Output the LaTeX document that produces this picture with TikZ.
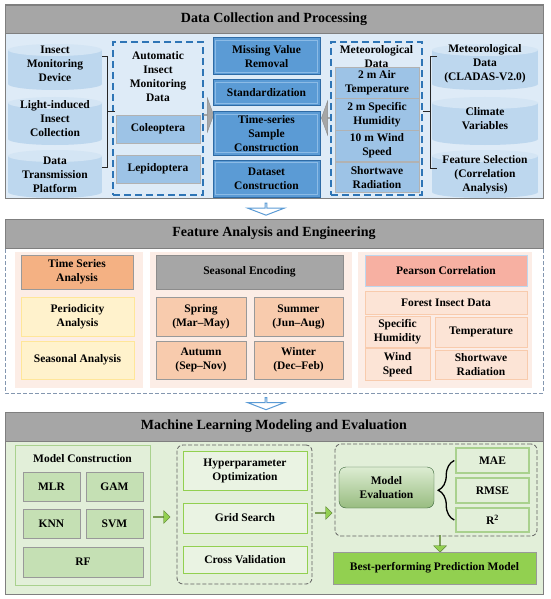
\documentclass[tikz,border=0pt]{standalone}
\usepackage{fontspec}
\setmainfont{Liberation Serif}
\usepackage{xcolor}
\usepackage{tikz}
\usetikzlibrary{shapes,shapes.geometric,shapes.arrows}
\usetikzlibrary{decorations.pathreplacing}
\usetikzlibrary{positioning}
\definecolor{barGray}{HTML}{A6A6A6}
\definecolor{frameGray}{HTML}{7F7F7F}
\definecolor{skyBg}{HTML}{DEEBF7}
\definecolor{cylBody}{HTML}{BDD7EE}
\definecolor{cylTop}{HTML}{D4E5F4}
\definecolor{dashBlue}{HTML}{2E75B6}
\definecolor{midBlue}{HTML}{9DC3E6}
\definecolor{btnBlue}{HTML}{5B9BD5}
\definecolor{btnEdge}{HTML}{2F6BA5}
\definecolor{btnLight}{HTML}{8CBBE6}
\definecolor{pinkBg}{HTML}{FCEDE6}
\definecolor{orangeA}{HTML}{F4B183}
\definecolor{peach}{HTML}{F8CBAD}
\definecolor{salmon}{HTML}{F7B0A2}
\definecolor{paleP}{HTML}{FCE4D6}
\definecolor{creamY}{HTML}{FFF2CC}
\definecolor{creamE}{HTML}{FFE699}
\definecolor{greenBg}{HTML}{E2EFD9}
\definecolor{greenE}{HTML}{A9D18E}
\definecolor{greenBox}{HTML}{C5E0B4}
\definecolor{tuneFill}{HTML}{EAF3E3}
\definecolor{lime}{HTML}{92D050}
\definecolor{slateGray}{HTML}{8497B0}
\tikzstyle{titlebar} = [rectangle, draw=frameGray, fill=barGray, minimum width=538,
    font=\fontsize{14}{16}\selectfont\bfseries]
\tikzstyle{cantext} = [align=center, inner sep=0pt]
\tikzstyle{dashbox} = [rectangle, draw=dashBlue, line width=1.3pt, dash pattern=on 7pt off 4pt]
\tikzstyle{taxon} = [rectangle, draw=gray!60, line width=0.8pt, fill=midBlue, align=center]
\tikzstyle{button} = [rectangle, draw=btnEdge, line width=1pt, fill=btnBlue, align=center,
    path picture={\draw[btnLight, line width=1.2pt]
      ([shift={(2.5pt,2.5pt)}]path picture bounding box.south west) rectangle
      ([shift={(-2.5pt,-2.5pt)}]path picture bounding box.north east);}]
\tikzstyle{grayarrow} = [single arrow, fill=gray!70, draw=gray!90, inner sep=0pt,
    minimum height=10, minimum width=34, single arrow head extend=8,
    single arrow tip angle=140]
\tikzstyle{bluearrow} = [single arrow, draw=btnBlue, fill=white, line width=1pt, inner sep=0pt,
    shape border rotate=270, minimum height=12, minimum width=37,
    single arrow head extend=10, single arrow tip angle=138]
\tikzstyle{panel} = [rectangle, fill=pinkBg, draw=none]
\tikzstyle{orangebox} = [rectangle, draw=gray!80, fill=orangeA, align=center]
\tikzstyle{cream} = [rectangle, draw=creamE, line width=1pt, fill=creamY, align=center]
\tikzstyle{season} = [rectangle, draw=gray!80, fill=peach, align=center]
\tikzstyle{graybox} = [rectangle, draw=gray!90, fill=barGray]
\tikzstyle{pearson} = [rectangle, draw=cylBody, line width=1pt, fill=salmon]
\tikzstyle{factor} = [rectangle, draw=peach, line width=1pt, fill=paleP, align=center]
\tikzstyle{greenpanel} = [rectangle, draw=greenE, line width=1pt, fill=greenBg]
\tikzstyle{model} = [rectangle, draw=gray!80, fill=greenBox]
\tikzstyle{tune} = [rectangle, draw=lime, line width=1pt, fill=tuneFill, align=center]
\tikzstyle{dashpanel} = [rectangle, rounded corners=6pt, draw=gray!75!black, line width=0.8pt,
    dash pattern=on 4pt off 2pt]
\tikzstyle{evalbox} = [rectangle, rounded corners=7pt, draw=gray!70!green!60!black,
    top color=greenBox!60!white, bottom color=greenE!90!black, align=center]
\tikzstyle{metric} = [rectangle, draw=greenE, line width=1.5pt, fill=greenBg]
\tikzstyle{greenarrow} = [single arrow, draw=lime!60!black, fill=lime, inner sep=0pt,
    minimum height=17, minimum width=13, single arrow head extend=3]
\tikzstyle{best} = [rectangle, draw=gray!80, line width=1pt, fill=lime]
\tikzstyle{brk} = [draw=black!85, line width=1pt]
\tikzstyle{curly} = [draw, decorate, decoration={brace, amplitude=16pt}, line width=1.3pt]

\begin{document}
\begin{tikzpicture}[x=1pt,y=-1pt,font=\fontsize{11.5}{14}\selectfont\bfseries]
    \useasboundingbox (0,0) rectangle (550,599);
    % Data collection and processing
    \draw[frameGray, line width=1pt, fill=skyBg] (5,5) rectangle (543,198);
    \node[titlebar, minimum height=28] (title1) at (274,19) {Data Collection and Processing};
    % cans behind the source texts
    \foreach \cx/\rx/\ytop/\ybot in {55/47/50/84, 55/47/103/139, 55/47/156/192,
                                     485/53/50/84, 485/53/103/139, 485/53/156/192} {
      \fill[cylBody] (\cx-\rx,\ytop) rectangle (\cx+\rx,\ybot);
      \fill[cylBody] (\cx,\ybot) ellipse [x radius=\rx pt, y radius=6pt];
      \fill[cylTop] (\cx,\ytop) ellipse [x radius=\rx pt, y radius=6pt];
    }
    \node[cantext] (device) at (55,64) {Insect\\Monitoring\\Device};
    \node[cantext] (light) at (55,119) {Light-induced\\Insect\\Collection};
    \node[cantext] (platform) at (55,175) {Data\\Transmission\\Platform};
    \node[dashbox, minimum width=90, minimum height=153] (autobox) at (158,118.5) {};
    \node[align=center] (autotxt) at (158,77) {Automatic\\Insect\\Monitoring\\Data};
    \node[taxon, minimum width=84, minimum height=28] (coleo) at (158,129) {Coleoptera};
    \node[taxon, minimum width=84, minimum height=28] (lepido) at (158,169) {Lepidoptera};
    \node[grayarrow] (toproc) at (208.5,115) {};
    \node[button, minimum width=107, minimum height=37] (missing) at (266.5,56.5) {Missing Value\\Removal};
    \node[button, minimum width=107, minimum height=26] (standard) at (266.5,93) {Standardization};
    \node[button, minimum width=107, minimum height=43] (sample) at (266.5,133.5) {Time-series\\Sample\\Construction};
    \node[button, minimum width=107, minimum height=37] (dataset) at (266.5,178.5) {Dataset\\Construction};
    \node[grayarrow, shape border rotate=180] (fromweather) at (326.5,118) {};
    \node[dashbox, minimum width=91, minimum height=153] (metbox) at (376.5,118.5) {};
    \node[align=center] (mettxt) at (376.5,56.5) {Meteorological\\Data};
    \node[taxon, minimum width=84, minimum height=30.5] (airtemp) at (377,83) {2 m Air\\Temperature};
    \node[taxon, minimum width=84, minimum height=30.5] (humid) at (377,114.5) {2 m Specific\\Humidity};
    \node[taxon, minimum width=84, minimum height=30.5] (wind) at (377,146) {10 m Wind\\Speed};
    \node[taxon, minimum width=84, minimum height=30.5] (radiation) at (377,177.5) {Shortwave\\Radiation};
    \node[cantext] (cladas) at (485,64) {Meteorological\\Data\\(CLADAS-V2.0)};
    \node[cantext] (climate) at (485,119) {Climate\\Variables};
    \node[cantext] (selection) at (485,175) {Feature Selection\\(Correlation\\Analysis)};
    % Draw edges
    \draw[brk] (102,57) -- (107,57) -- (107,167) -- (102,167);
    \draw[brk] (107,112) -- (115,112);
    \draw[brk] (437,57) -- (430,57) -- (430,168) -- (437,168);
    \draw[brk] (430,112) -- (423,112);
    \node[bluearrow] (down1) at (266,209) {};

    % Feature analysis and engineering
    \draw[slateGray, line width=1pt, dash pattern=on 4pt off 2pt] (5,219) rectangle (543,393);
    \node[titlebar, minimum height=29] (title2) at (274,233.5) {Feature Analysis and Engineering};
    \node[panel, minimum width=128, minimum height=136] (panelA) at (79,320) {};
    \node[panel, minimum width=202, minimum height=136] (panelB) at (251,320) {};
    \node[panel, minimum width=174, minimum height=136] (panelC) at (445,320) {};
    \node[orangebox, minimum width=112, minimum height=34] (tsa) at (77,272) {Time Series\\Analysis};
    \node[cream, minimum width=113, minimum height=39] (period) at (77.5,316.5) {Periodicity\\Analysis};
    \node[cream, minimum width=113, minimum height=38] (seasonal) at (77.5,360) {Seasonal Analysis};
    \node[graybox, minimum width=187, minimum height=34] (encode) at (249.5,272) {Seasonal Encoding};
    \node[season, minimum width=90, minimum height=39] (spring) at (201,316.5) {Spring\\(Mar--May)};
    \node[season, minimum width=89, minimum height=39] (summer) at (298.5,316.5) {Summer\\(Jun--Aug)};
    \node[season, minimum width=90, minimum height=38] (autumn) at (201,360) {Autumn\\(Sep--Nov)};
    \node[season, minimum width=89, minimum height=38] (winter) at (298.5,360) {Winter\\(Dec--Feb)};
    \node[pearson, minimum width=162, minimum height=31] (pearson) at (446,270.5) {Pearson Correlation};
    \node[factor, minimum width=162, minimum height=23] (forest) at (446,302.5) {Forest Insect Data};
    \node[factor, minimum width=65, minimum height=30] (spechum) at (397.5,332) {Specific\\Humidity};
    \node[factor, minimum width=92, minimum height=30] (temp) at (481,332) {Temperature};
    \node[factor, minimum width=65, minimum height=29] (windsp) at (397.5,364.5) {Wind\\Speed};
    \node[factor, minimum width=92, minimum height=29] (shortw) at (481,364.5) {Shortwave\\Radiation};
    \node[bluearrow] (down2) at (266,403.5) {};

    % Machine learning modeling and evaluation
    \draw[frameGray, line width=1pt, fill=greenBg] (5,412) rectangle (543,594);
    \node[titlebar, minimum height=29] (title3) at (274,426.5) {Machine Learning Modeling and Evaluation};
    \node[greenpanel, minimum width=135, minimum height=140] (mcpanel) at (82.5,515) {};
    \node (mctxt) at (82.5,459) {Model Construction};
    \node[model, minimum width=57, minimum height=29] (mlr) at (51.5,486.5) {MLR};
    \node[model, minimum width=57, minimum height=29] (gam) at (114.5,486.5) {GAM};
    \node[model, minimum width=57, minimum height=29] (knn) at (51.5,523.5) {KNN};
    \node[model, minimum width=57, minimum height=29] (svm) at (114.5,523.5) {SVM};
    \node[model, minimum width=120, minimum height=30] (rf) at (83,562) {RF};
    \node[greenarrow] (tuning) at (161.5,517) {};
    \node[dashpanel, minimum width=135, minimum height=139] (tunepanel) at (244.5,514.5) {};
    \node[tune, minimum width=124, minimum height=39] (hyper) at (245,470.5) {Hyperparameter\\Optimization};
    \node[tune, minimum width=124, minimum height=30] (grid) at (245,518) {Grid Search};
    \node[tune, minimum width=124, minimum height=27] (cross) at (245,560) {Cross Validation};
    \node[greenarrow] (evaluate) at (323.5,513) {};
    \node[dashpanel, minimum width=202, minimum height=92] (evalpanel) at (436,490) {};
    \node[evalbox, minimum width=95, minimum height=41] (evaluation) at (386.5,487.5) {Model\\Evaluation};
    \node[metric, minimum width=73, minimum height=25] (mae) at (492.5,460.5) {MAE};
    \node[metric, minimum width=73, minimum height=25] (rmse) at (492.5,490.5) {RMSE};
    \node[metric, minimum width=73, minimum height=24] (rsq) at (492.5,520) {R\textsuperscript{2}};
    \draw[curly] ([xshift=-1pt]rsq.west) -- ([xshift=-1pt]mae.west);
    \node[greenarrow, shape border rotate=270] (select) at (440,543.5) {};
    \node[best, minimum width=203, minimum height=32] (bestmodel) at (434.5,568) {Best-performing Prediction Model};
\end{tikzpicture}
\end{document}
